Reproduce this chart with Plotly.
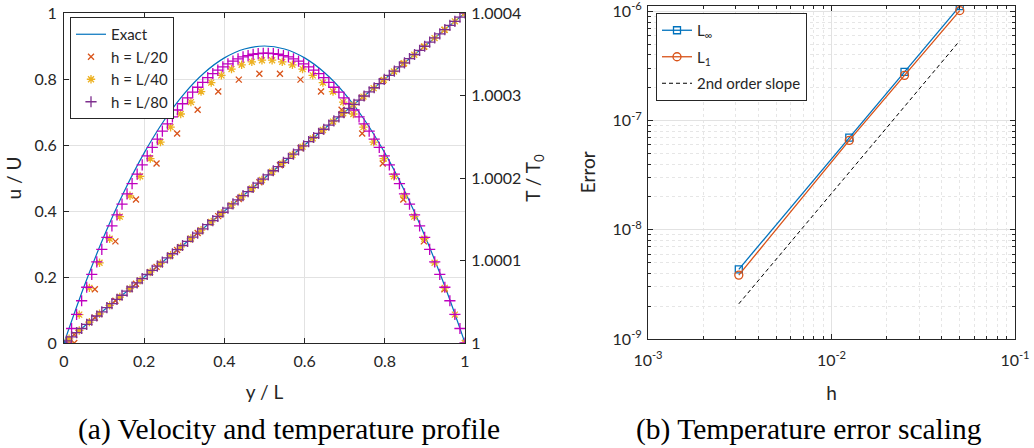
import plotly.graph_objects as go

# ---------------- (a) velocity / temperature profile ----------------
y_exact = [0, 0.05, 0.1, 0.15, 0.2, 0.25, 0.3, 0.35, 0.4, 0.45, 0.5,
           0.55, 0.6, 0.65, 0.7, 0.75, 0.8, 0.85, 0.9, 0.95, 1.0]
u_exact = [0, 0.171, 0.324, 0.459, 0.576, 0.675, 0.756, 0.819, 0.864, 0.891, 0.9,
           0.891, 0.864, 0.819, 0.756, 0.675, 0.576, 0.459, 0.324, 0.171, 0]
yT_exact = [0, 1]
T_exact = [1.0, 1.0004]

y20 = [0.0256, 0.0769, 0.1282, 0.1795, 0.2308, 0.2821, 0.3333, 0.3846, 0.4359, 0.4872,
       0.5385, 0.5897, 0.6410, 0.6923, 0.7436, 0.7949, 0.8462, 0.8974, 0.9487, 1.0000]
u20 = [0.000, 0.163, 0.308, 0.435, 0.544, 0.635, 0.707, 0.762, 0.798, 0.816,
       0.816, 0.798, 0.762, 0.707, 0.635, 0.544, 0.435, 0.308, 0.163, 0.000]
T20 = [1.0000102, 1.0000308, 1.0000513, 1.0000718, 1.0000923, 1.0001128, 1.0001333, 1.0001538,
       1.0001744, 1.0001949, 1.0002154, 1.0002359, 1.0002564, 1.0002769, 1.0002974, 1.0003179,
       1.0003385, 1.0003590, 1.0003795, 1.0004000]

y40 = [0.0127, 0.0380, 0.0633, 0.0886, 0.1139, 0.1392, 0.1646, 0.1899, 0.2152, 0.2405,
       0.2658, 0.2911, 0.3165, 0.3418, 0.3671, 0.3924, 0.4177, 0.4430, 0.4684, 0.4937,
       0.5190, 0.5443, 0.5696, 0.5949, 0.6203, 0.6456, 0.6709, 0.6962, 0.7215, 0.7468,
       0.7722, 0.7975, 0.8228, 0.8481, 0.8734, 0.8987, 0.9241, 0.9494, 0.9747, 1.0000]
u40 = [0.000, 0.086, 0.167, 0.243, 0.316, 0.383, 0.446, 0.505, 0.559, 0.609,
       0.654, 0.694, 0.730, 0.762, 0.789, 0.811, 0.830, 0.843, 0.852, 0.857,
       0.857, 0.852, 0.843, 0.830, 0.811, 0.789, 0.762, 0.730, 0.694, 0.654,
       0.609, 0.559, 0.505, 0.446, 0.383, 0.316, 0.243, 0.167, 0.086, 0.000]
T40 = [1.0000051, 1.0000152, 1.0000253, 1.0000354, 1.0000456, 1.0000557, 1.0000658, 1.0000759,
       1.0000861, 1.0000962, 1.0001063, 1.0001165, 1.0001266, 1.0001367, 1.0001468, 1.0001570,
       1.0001671, 1.0001772, 1.0001873, 1.0001975, 1.0002076, 1.0002177, 1.0002278, 1.0002380,
       1.0002481, 1.0002582, 1.0002684, 1.0002785, 1.0002886, 1.0002987, 1.0003089, 1.0003190,
       1.0003291, 1.0003392, 1.0003494, 1.0003595, 1.0003696, 1.0003797, 1.0003899, 1.0004000]

y80 = [0.0063, 0.0189, 0.0314, 0.0440, 0.0566, 0.0692, 0.0818, 0.0943, 0.1069, 0.1195,
       0.1321, 0.1447, 0.1572, 0.1698, 0.1824, 0.1950, 0.2075, 0.2201, 0.2327, 0.2453,
       0.2579, 0.2704, 0.2830, 0.2956, 0.3082, 0.3208, 0.3333, 0.3459, 0.3585, 0.3711,
       0.3836, 0.3962, 0.4088, 0.4214, 0.4340, 0.4465, 0.4591, 0.4717, 0.4843, 0.4969,
       0.5094, 0.5220, 0.5346, 0.5472, 0.5597, 0.5723, 0.5849, 0.5975, 0.6101, 0.6226,
       0.6352, 0.6478, 0.6604, 0.6730, 0.6855, 0.6981, 0.7107, 0.7233, 0.7358, 0.7484,
       0.7610, 0.7736, 0.7862, 0.7987, 0.8113, 0.8239, 0.8365, 0.8491, 0.8616, 0.8742,
       0.8868, 0.8994, 0.9119, 0.9245, 0.9371, 0.9497, 0.9623, 0.9748, 0.9874, 1.0000]
u80 = [0.000, 0.044, 0.087, 0.128, 0.169, 0.208, 0.246, 0.284, 0.320, 0.355,
       0.388, 0.421, 0.452, 0.483, 0.512, 0.540, 0.567, 0.593, 0.618, 0.642,
       0.664, 0.685, 0.706, 0.725, 0.743, 0.760, 0.775, 0.790, 0.804, 0.816,
       0.827, 0.837, 0.846, 0.854, 0.861, 0.867, 0.871, 0.875, 0.877, 0.878,
       0.878, 0.877, 0.875, 0.871, 0.867, 0.861, 0.854, 0.846, 0.837, 0.827,
       0.816, 0.804, 0.790, 0.775, 0.760, 0.743, 0.725, 0.706, 0.685, 0.664,
       0.642, 0.618, 0.593, 0.567, 0.540, 0.512, 0.483, 0.452, 0.421, 0.388,
       0.355, 0.320, 0.284, 0.246, 0.208, 0.169, 0.128, 0.087, 0.044, 0.000]
T80 = [1.0000025, 1.0000075, 1.0000126, 1.0000176, 1.0000226, 1.0000277, 1.0000327, 1.0000377,
       1.0000428, 1.0000478, 1.0000528, 1.0000579, 1.0000629, 1.0000679, 1.0000730, 1.0000780,
       1.0000830, 1.0000881, 1.0000931, 1.0000981, 1.0001031, 1.0001082, 1.0001132, 1.0001182,
       1.0001233, 1.0001283, 1.0001333, 1.0001384, 1.0001434, 1.0001484, 1.0001535, 1.0001585,
       1.0001635, 1.0001686, 1.0001736, 1.0001786, 1.0001836, 1.0001887, 1.0001937, 1.0001987,
       1.0002038, 1.0002088, 1.0002138, 1.0002189, 1.0002239, 1.0002289, 1.0002340, 1.0002390,
       1.0002440, 1.0002491, 1.0002541, 1.0002591, 1.0002642, 1.0002692, 1.0002742, 1.0002792,
       1.0002843, 1.0002893, 1.0002943, 1.0002994, 1.0003044, 1.0003094, 1.0003145, 1.0003195,
       1.0003245, 1.0003296, 1.0003346, 1.0003396, 1.0003447, 1.0003497, 1.0003547, 1.0003597,
       1.0003648, 1.0003698, 1.0003748, 1.0003799, 1.0003849, 1.0003899, 1.0003950, 1.0004000]

# ---------------- (b) temperature error scaling ----------------
h_vals = [0.003125, 0.0125, 0.025, 0.05]
err_linf = [4.35e-9, 7.0e-8, 2.8e-7, 1.12e-6]
err_l1 = [3.85e-9, 6.6e-8, 2.6e-7, 1.02e-6]
h_slope = [0.003125, 0.05]
err_slope = [2.1e-9, 5.4e-7]

lin_ticks = [0, 0.2, 0.4, 0.6, 0.8, 1]
lin_labels = ['0', '0.2', '0.4', '0.6', '0.8', '1']
T_ticks = [1, 1.0001, 1.0002, 1.0003, 1.0004]
T_labels = ['1', '1.0001', '1.0002', '1.0003', '1.0004']
h_ticks = [1e-3, 1e-2, 1e-1]
h_labels = ['10<sup>-3</sup>', '10<sup>-2</sup>', '10<sup>-1</sup>']
e_ticks = [1e-9, 1e-8, 1e-7, 1e-6]
e_labels = ['10<sup>-9</sup>', '10<sup>-8</sup>', '10<sup>-7</sup>', '10<sup>-6</sup>']

BLUE, ORANGE, YELLOW, MAG, PURP = '#0072BD', '#D95319', '#EDB120', '#BF00BF', '#7E2F8E'
AX = '#262626'

fig = go.Figure()
fig.add_trace(go.Scatter(x=y_exact, y=u_exact, mode='lines',
                         line=dict(color=BLUE, width=1.2, shape='spline'),
                         name='Exact', legend='legend', legendrank=1))
profiles = [
    (y20, u20, T20, 'x-thin-open', ORANGE, ORANGE, 6, 'h = L/20', 2),
    (y40, u40, T40, 'asterisk-open', YELLOW, YELLOW, 7, 'h = L/40', 3),
    (y80, u80, T80, 'cross-thin-open', MAG, PURP, 8, 'h = L/80', 4),
]
for xs, us, Ts, sym, cu, cT, sz, nm, rk in profiles:
    fig.add_trace(go.Scatter(x=xs, y=us, mode='markers', name=nm,
                             marker=dict(symbol=sym, size=sz, color=cu, line=dict(color=cu, width=1.3)),
                             showlegend=(rk != 4), legend='legend', legendrank=rk))
fig.add_trace(go.Scatter(x=yT_exact, y=T_exact, mode='lines', line=dict(color=BLUE, width=1.2),
                         yaxis='y2', showlegend=False, name='Exact T'))
for xs, us, Ts, sym, cu, cT, sz, nm, rk in profiles:
    fig.add_trace(go.Scatter(x=xs, y=Ts, mode='markers', name=nm, yaxis='y2',
                             marker=dict(symbol=sym, size=sz, color=cT, line=dict(color=cT, width=1.3)),
                             showlegend=(rk == 4), legend='legend', legendrank=rk))

fig.add_trace(go.Scatter(x=h_vals, y=err_linf, mode='lines+markers', name='L<sub>∞</sub>',
                         line=dict(color=BLUE, width=1.3), legendgroup='a',
                         marker=dict(symbol='square-open', size=7, color=BLUE, line=dict(width=1.3)),
                         xaxis='x3', yaxis='y3', legend='legend2'))
fig.add_trace(go.Scatter(x=h_vals, y=err_l1, mode='lines+markers', name='L<sub>1</sub>',
                         line=dict(color=ORANGE, width=1.3), legendgroup='b',
                         marker=dict(symbol='circle-open', size=8, color=ORANGE, line=dict(width=1.3)),
                         xaxis='x3', yaxis='y3', legend='legend2'))
fig.add_trace(go.Scatter(x=h_slope, y=err_slope, mode='lines', name='2nd order slope',
                         line=dict(color='black', width=1, dash='4px,3px'), legendgroup='c',
                         xaxis='x3', yaxis='y3', legend='legend2'))

W, H = 1034, 448
def px(x): return x / W
def py(y): return (H - y) / H

common = dict(showline=True, linecolor=AX, linewidth=1, ticks='inside', ticklen=5, tickcolor=AX,
              zeroline=False, gridcolor='#e2e2e2', gridwidth=1, automargin=False,
              ticklabeloverflow='allow')
minor_style = dict(ticks='inside', ticklen=3, tickcolor=AX, showgrid=True, gridcolor='#e6e6e6',
                   griddash='dot')
fig.update_layout(
    width=W, height=H, margin=dict(l=0, r=0, t=0, b=0),
    paper_bgcolor='white', plot_bgcolor='white',
    font=dict(family='Lato', size=16, color=AX),
    xaxis=dict(domain=[px(64), px(465)], range=[0, 1], tickvals=lin_ticks, ticktext=lin_labels,
               mirror='ticks', showgrid=True, title=dict(text='y / L', standoff=16), anchor='y',
               ticklabelstandoff=4, **common),
    yaxis=dict(domain=[py(343), py(13)], range=[0, 1], tickvals=lin_ticks, ticktext=lin_labels,
               showgrid=True, title=dict(text='u / U', standoff=7), anchor='x',
               ticklabelstandoff=3, **common),
    yaxis2=dict(overlaying='y', side='right', range=[1, 1.0004], anchor='x',
                tickvals=T_ticks, ticktext=T_labels, showgrid=False, ticklabelstandoff=2,
                title=dict(text='T / T<sub>0</sub>', standoff=6), **common),
    xaxis3=dict(domain=[px(648), px(1015)], type='log', range=[-3, -1], anchor='y3',
                tickvals=h_ticks, ticktext=h_labels, mirror='ticks', showgrid=True,
                title=dict(text='h', standoff=18), ticklabelstandoff=7,
                minor=dict(tickvals=[m * 10.0 ** e for e in (-3, -2) for m in range(2, 10)], **minor_style),
                **common),
    yaxis3=dict(domain=[py(339), py(5.5)], type='log', range=[-9, -5.945], anchor='x3',
                tickvals=e_ticks, ticktext=e_labels, mirror='ticks', showgrid=True,
                title=dict(text='Error', standoff=11), ticklabelstandoff=2,
                minor=dict(tickvals=[m * 10.0 ** e for e in (-9, -8, -7, -6) for m in range(2, 10)],
                           **minor_style),
                **common),
    legend=dict(x=px(70), y=py(17), xanchor='left', yanchor='top', bordercolor=AX, borderwidth=1,
                bgcolor='white', font=dict(size=15)),
    legend2=dict(x=px(656), y=py(13), xanchor='left', yanchor='top', bordercolor=AX, borderwidth=1,
                 bgcolor='white', font=dict(size=15), tracegroupgap=4),
    annotations=[
        dict(text='(a) Velocity and temperature profile', x=px(288.5), y=py(429), xref='paper', yref='paper',
             xanchor='center', yanchor='middle', showarrow=False,
             font=dict(family='Liberation Serif', size=29.5, color='black')),
        dict(text='(b) Temperature error scaling', x=px(809), y=py(429), xref='paper', yref='paper',
             xanchor='center', yanchor='middle', showarrow=False,
             font=dict(family='Liberation Serif', size=29.5, color='black')),
    ],
)
fig.write_html('out.html')
